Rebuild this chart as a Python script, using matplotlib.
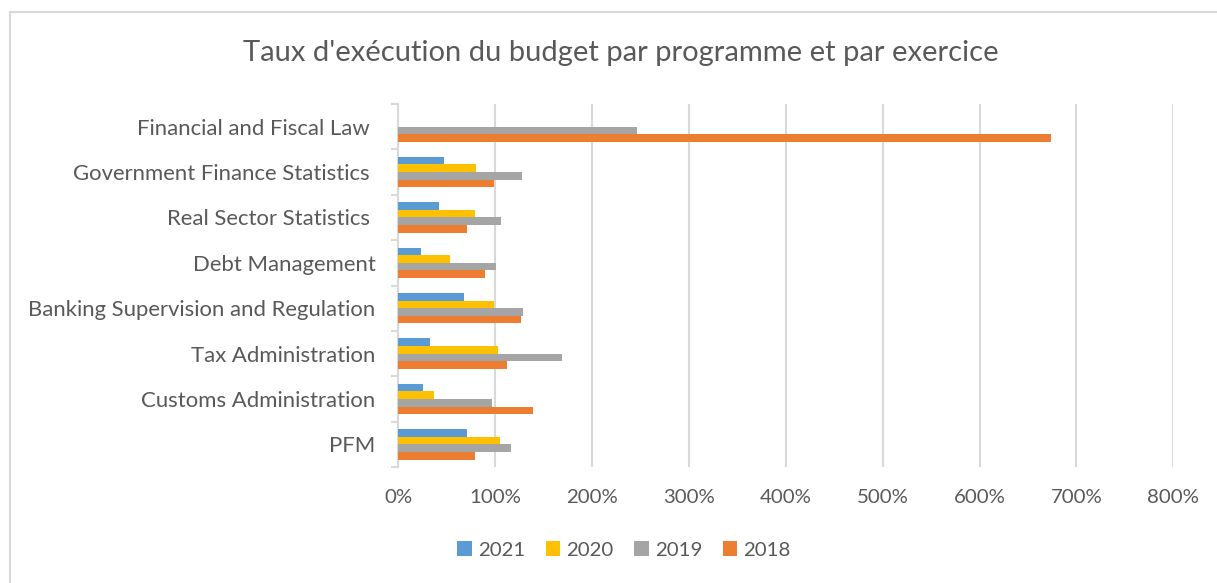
import matplotlib
matplotlib.use("Agg")
import matplotlib.pyplot as plt
import numpy as np
from matplotlib.lines import Line2D
from matplotlib.patches import Patch

categories = ["Financial and Fiscal Law ", "Government Finance Statistics ", "Real Sector Statistics ",
              "Debt Management", "Banking Supervision and Regulation", "Tax Administration",
              "Customs Administration", "PFM"]
years = ["2021", "2020", "2019", "2018"]
v2021 = [0, 47.6, 42.4, 23.1, 67.6, 32.8, 25.2, 70.7]
v2020 = [0, 80.7, 79.6, 53.8, 98.7, 103.4, 36.6, 104.9]
v2019 = [246, 127.6, 106.5, 101.3, 128.3, 168.6, 97.2, 116.2]
v2018 = [674, 98.7, 71.0, 90.0, 126.9, 112.7, 139.0, 79.6]
colors = ["#5B9BD5", "#FFC000", "#A5A5A5", "#ED7D31"]
xticks = [0, 100, 200, 300, 400, 500, 600, 700, 800]

plt.rcParams['font.family'] = ['Lato', 'DejaVu Sans']
W, H = 1217, 583
fig = plt.figure(figsize=(W/100, H/100), dpi=100)
ax = fig.add_axes([398.3/W, 1-467/H, (1173.3-398.3)/W, (467-104)/H])

n = len(categories)
ypos = np.arange(n)[::-1]  # top category at highest y
bh = 7.6/45.4
series = [v2021, v2020, v2019, v2018]
for i, (vals, c, lab) in enumerate(zip(series, colors, years)):
    offs = (1.5 - i) * bh
    ax.barh(ypos + offs, vals, height=bh, color=c, label=lab, edgecolor='none', zorder=3)

ax.set_xlim(0, 800)
ax.set_ylim(-0.5, n-0.5)
ax.set_xticks(xticks)
ax.set_xticklabels([f"{t}%" for t in xticks], fontsize=14.7, color="#595959")
ax.xaxis.grid(True, color="#d9d9d9", linewidth=1.5, zorder=0)
ax.tick_params(axis='x', length=0, pad=16)
ax.set_yticks(ypos)
ax.set_yticklabels(categories, fontsize=15.9, color="#595959")
ax.set_yticks(np.arange(n+1)-0.5, minor=True)
ax.tick_params(axis='y', which='major', length=0, pad=16.5)
ax.tick_params(axis='y', which='minor', length=5, width=1.5, color="#d9d9d9")
for s in ['top', 'right', 'bottom']:
    ax.spines[s].set_visible(False)
ax.spines['left'].set_color("#d9d9d9")
ax.spines['left'].set_linewidth(1.5)

fig.text(621/W, 1-53/H, "Taux d'exécution du budget par programme et par exercice",
         ha='center', va='center', fontsize=21, color="#595959")

handles = [Patch(facecolor=c, edgecolor='none') for c in colors]
fig.legend(handles, years, loc='center', bbox_to_anchor=(624/W, 1-550/H), ncol=4,
           frameon=False, fontsize=14.7, labelcolor="#595959", handlelength=0.72,
           handleheight=0.72, handletextpad=0.3, columnspacing=1.0)

# outer chart frame
fig.add_artist(Line2D([10/W, 1], [1-12/H, 1-12/H], color="#d9d9d9", linewidth=1.5, transform=fig.transFigure))
fig.add_artist(Line2D([10/W, 10/W], [0, 1-12/H], color="#d9d9d9", linewidth=1.5, transform=fig.transFigure))

fig.savefig("out.png", dpi=100)
